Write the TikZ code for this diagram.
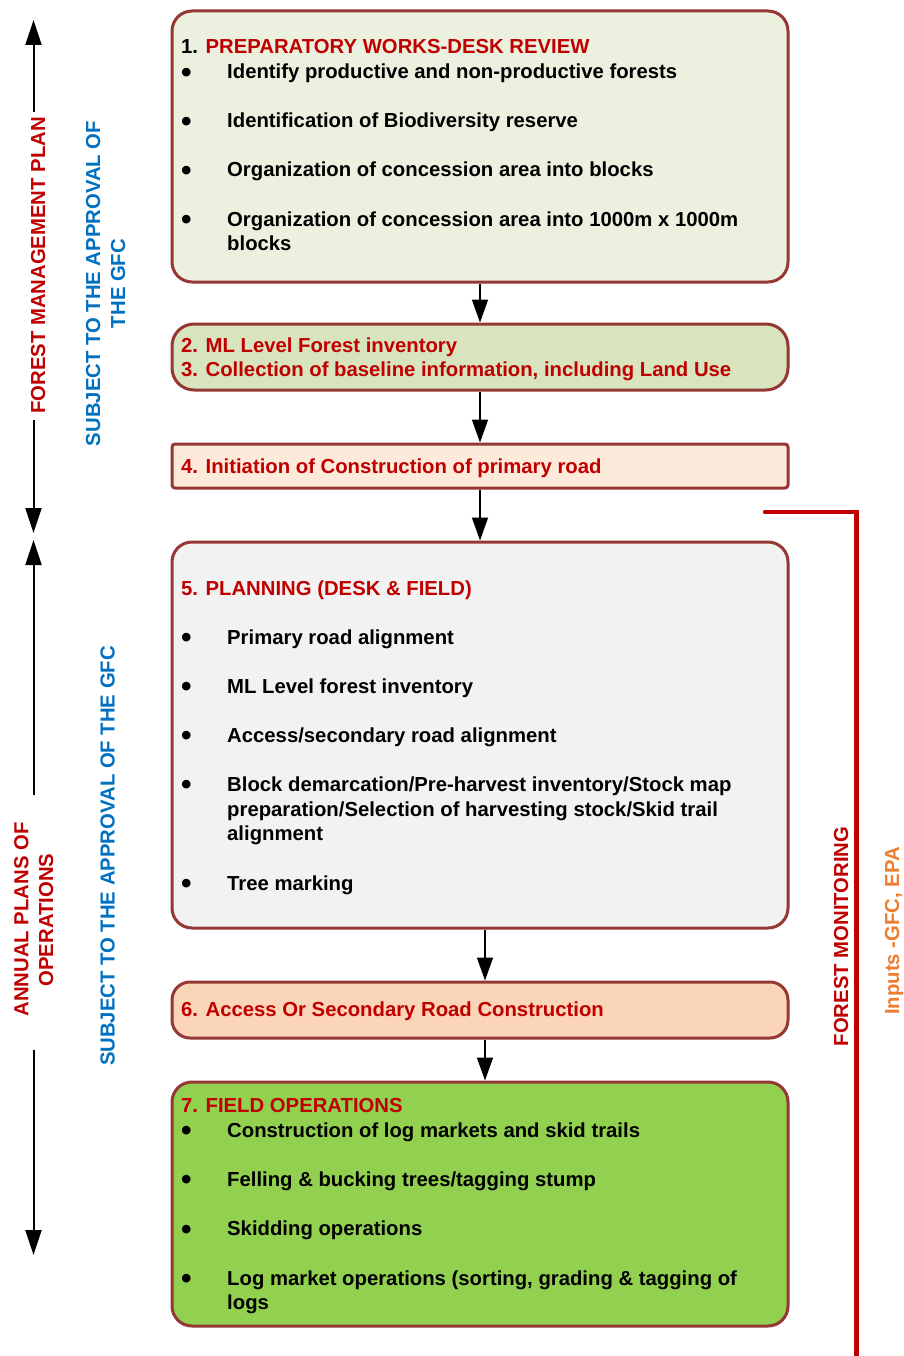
\documentclass[tikz,border=0pt]{standalone}
\usepackage{fontspec}
\setmainfont{Liberation Sans}
\usetikzlibrary{arrows.meta}
\definecolor{bord}{HTML}{953735}
\definecolor{dred}{HTML}{C00000}
\definecolor{dblue}{HTML}{0070C0}
\definecolor{dorange}{HTML}{ED7D31}
\definecolor{fillA}{HTML}{EBF1DE}
\definecolor{fillB}{HTML}{D7E4BD}
\definecolor{fillC}{HTML}{FDEADA}
\definecolor{fillD}{HTML}{F2F2F2}
\definecolor{fillE}{HTML}{FBD5B8}
\definecolor{fillF}{HTML}{92D050}
\newcommand{\bigbul}{\raisebox{-3.5pt}{\fontsize{30}{30}\selectfont\textbullet}}
\tikzset{
  box/.style={draw=bord, line width=3pt, rounded corners=20pt, minimum width=616pt, inner sep=0pt, rectangle},
  txt/.style={anchor=base west, inner sep=0pt, font=\bfseries\fontsize{20.3}{24.5}\selectfont},
  bul/.style={txt},
  rtxt/.style={txt, text=dred},
  rot/.style={anchor=base, inner sep=0pt, rotate=90, font=\bfseries\fontsize{20.3}{24.5}\selectfont},
  conn/.style={line width=1.5pt, -{Triangle[width=16pt,length=23pt]}},
  larr/.style={line width=2pt, -{Triangle[width=16pt,length=25pt]}},
  mon/.style={draw=dred, line width=4.5pt, line cap=round, line join=miter}
}
\begin{document}
\begin{tikzpicture}[x=1pt,y=-1pt]
\useasboundingbox (0,0) rectangle (904,1356);
\fill[white] (0,0) rectangle (904,1356);

% boxes
\node[box, fill=fillA, minimum height=271pt] (b1) at (480,146.5) {};
\node[box, fill=fillB, minimum height=66pt, rounded corners=22pt] (b2) at (480,357) {};
\node[box, fill=fillC, minimum height=44pt, rounded corners=3pt] (b4) at (480,466) {};
\node[box, fill=fillD, minimum height=386pt] (b5) at (480,735) {};
\node[box, fill=fillE, minimum height=56pt, rounded corners=18pt] (b6) at (480,1010) {};
\node[box, fill=fillF, minimum height=244pt] (b7) at (480,1204) {};

% connectors
\draw[conn] (b1.south) -- (b2.north);
\draw[conn] (b2.south) -- (b4.north);
\draw[conn] (b4.south) -- (b5.north);
\draw[conn] ([xshift=5pt]b5.south) -- ([xshift=5pt]b6.north);
\draw[conn] ([xshift=5pt]b6.south) -- ([xshift=5pt]b7.north);

% box 1 text
\node[txt] (t1) at (181,54) {1. \textcolor{dred}{PREPARATORY WORKS-DESK REVIEW}};
\node[bul] (p1) at (181,79) {\bigbul};
\node[txt] (t1a) at (227,79) {Identify productive and non-productive forests};
\node[bul] (p2) at (181,128) {\bigbul};
\node[txt] (t1b) at (227,128) {Identification of Biodiversity reserve};
\node[bul] (p3) at (181,177) {\bigbul};
\node[txt] (t1c) at (227,177) {Organization of concession area into blocks};
\node[bul] (p4) at (181,226.5) {\bigbul};
\node[txt] (t1d) at (227,226.5) {Organization of concession area into 1000m x 1000m};
\node[txt] (t1e) at (227,251) {blocks};

% box 2 text
\node[rtxt] (t2a) at (181,352) {2. ML Level Forest inventory};
\node[rtxt] (t2b) at (181,376) {3. Collection of baseline information, including Land Use};

% box 4 text
\node[rtxt] (t4) at (181,473) {4. Initiation of Construction of primary road};

% box 5 text
\node[rtxt] (t5) at (181,595) {5. PLANNING (DESK \& FIELD)};
\node[bul] (p5a) at (181,644) {\bigbul};
\node[txt] (t5a) at (227,644) {Primary road alignment};
\node[bul] (p5b) at (181,693) {\bigbul};
\node[txt] (t5b) at (227,693) {ML Level forest inventory};
\node[bul] (p5c) at (181,742) {\bigbul};
\node[txt] (t5c) at (227,742) {Access/secondary road alignment};
\node[bul] (p5d) at (181,791) {\bigbul};
\node[txt] (t5d) at (227,791) {Block demarcation/Pre-harvest inventory/Stock map};
\node[txt] (t5e) at (227,816) {preparation/Selection of harvesting stock/Skid trail};
\node[txt] (t5f) at (227,840) {alignment};
\node[bul] (p5g) at (181,890) {\bigbul};
\node[txt] (t5g) at (227,890) {Tree marking};

% box 6 text
\node[rtxt] (t6) at (181,1016) {6. Access Or Secondary Road Construction};

% box 7 text
\node[rtxt] (t7) at (181,1112.5) {7. FIELD OPERATIONS};
\node[bul] (p7a) at (181,1137) {\bigbul};
\node[txt] (t7a) at (227,1137) {Construction of log markets and skid trails};
\node[bul] (p7b) at (181,1186) {\bigbul};
\node[txt] (t7b) at (227,1186) {Felling \& bucking trees/tagging stump};
\node[bul] (p7c) at (181,1235.5) {\bigbul};
\node[txt] (t7c) at (227,1235.5) {Skidding operations};
\node[bul] (p7d) at (181,1285) {\bigbul};
\node[txt] (t7d) at (227,1285) {Log market operations (sorting, grading \& tagging of};
\node[txt] (t7e) at (227,1309.5) {logs};

% left arrows
\coordinate (la1) at (33.5,112);
\coordinate (la1t) at (33.5,20);
\coordinate (la2) at (33.5,420);
\coordinate (la2t) at (33.5,533);
\coordinate (la3) at (33.5,795);
\coordinate (la3t) at (33.5,540);
\coordinate (la4) at (33.5,1050);
\coordinate (la4t) at (33.5,1255);
\draw[larr] (la1) -- (la1t);
\draw[larr] (la2) -- (la2t);
\draw[larr] (la3) -- (la3t);
\draw[larr] (la4) -- (la4t);

% left labels
\node[rot, text=dred] (fmp) at (45,265.5) {FOREST MANAGEMENT PLAN};
\node[rot, text=dblue] (sub1a) at (100,283.5) {SUBJECT TO THE APPROVAL OF};
\node[rot, text=dblue] (sub1b) at (125,283.5) {THE GFC};
\node[rot, text=dred] (apo1) at (28.3,919.5) {ANNUAL PLANS OF};
\node[rot, text=dred] (apo2) at (53,920) {OPERATIONS};
\node[rot, text=dblue] (sub2) at (114.5,856) {SUBJECT TO THE APPROVAL OF THE GFC};

% monitoring bracket
\coordinate (m1) at (765,512);
\coordinate (m2) at (856.5,512);
\coordinate (m3) at (856.5,1358);
\coordinate (m4) at (765,1358);
\draw[mon] (m1) -- (m2) -- (m3) -- (m4);
\node[rot, text=dred] (fmon) at (848,936.5) {FOREST MONITORING};
\node[rot, text=dorange] (inp) at (899,931) {Inputs -GFC, EPA};
\end{tikzpicture}
\end{document}
